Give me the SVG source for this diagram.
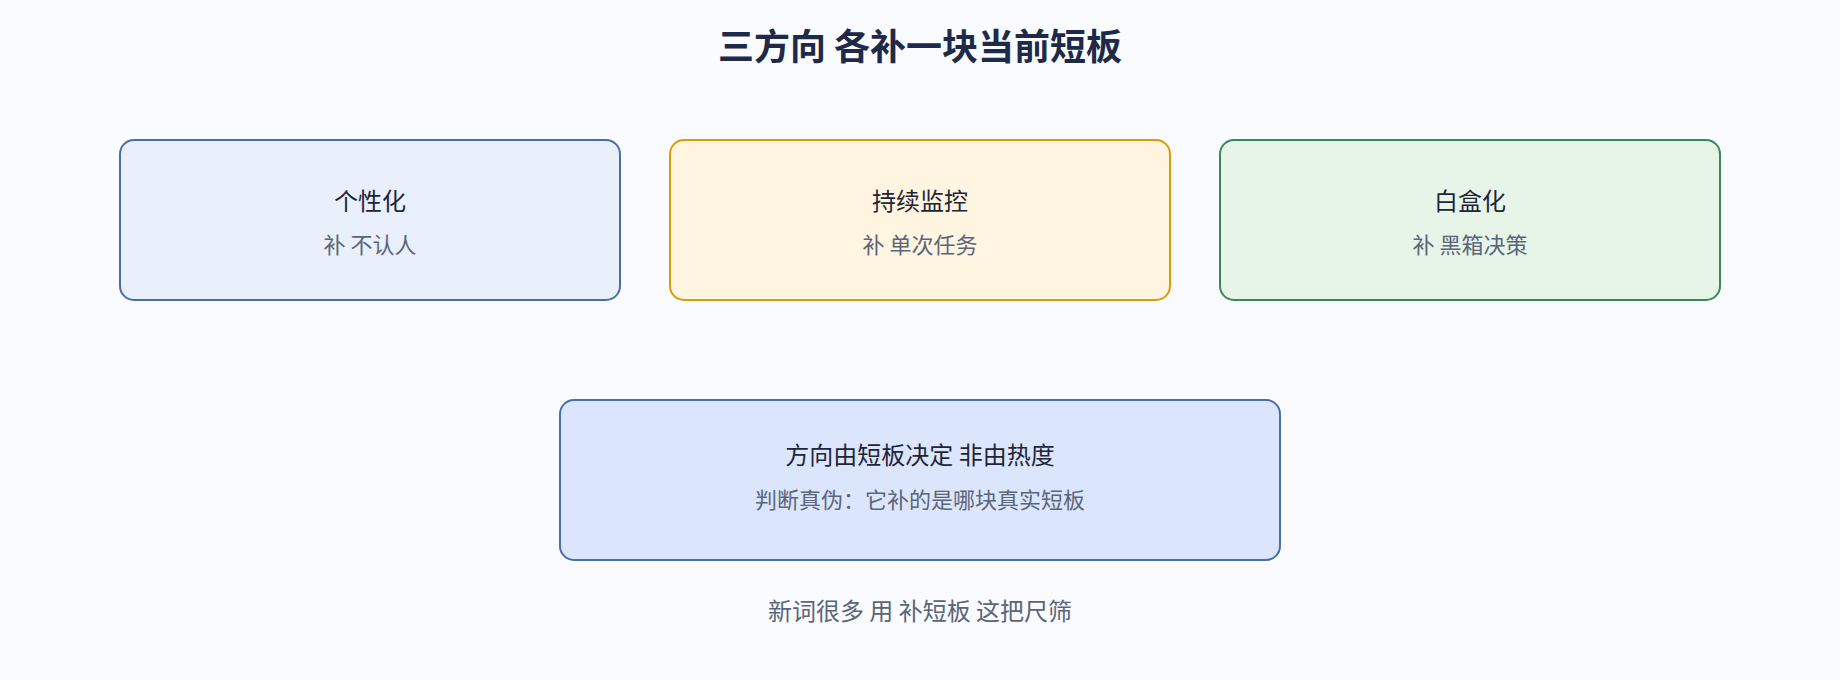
<svg xmlns="http://www.w3.org/2000/svg" width="1840" height="680" viewBox="0 0 1840 680">
<style>
text{font-family:"Noto Sans CJK SC","Noto Sans",sans-serif;text-anchor:middle}
.title{font-size:36px;font-weight:700;fill:#1e2a48}
.h{font-size:24px;fill:#1e2538}
.s{font-size:22px;fill:#5b6579}
.foot{font-size:24px;fill:#5b6579}
.box{stroke-width:2}
.blue{fill:#e9f0fc;stroke:#4a6ea6}
.amber{fill:#fff5e0;stroke:#d79c08}
.green{fill:#e7f4e8;stroke:#3b8758}
.main{fill:#dbe6fd;stroke:#4a6ea6}
</style>
<rect width="1840" height="680" fill="#f9fbfe"/>
<text class="title" x="920" y="60">三方向 各补一块当前短板</text>
<g id="connectors"></g>
<g id="node-personalize">
<rect class="box blue" x="120" y="140" width="500" height="160" rx="14"/>
<text class="h" x="370" y="210">个性化</text>
<text class="s" x="370" y="253">补 不认人</text>
</g>
<g id="node-monitor">
<rect class="box amber" x="670" y="140" width="500" height="160" rx="14"/>
<text class="h" x="920" y="210">持续监控</text>
<text class="s" x="920" y="253">补 单次任务</text>
</g>
<g id="node-whitebox">
<rect class="box green" x="1220" y="140" width="500" height="160" rx="14"/>
<text class="h" x="1470" y="210">白盒化</text>
<text class="s" x="1470" y="253">补 黑箱决策</text>
</g>
<g id="node-direction">
<rect class="box main" x="560" y="400" width="720" height="160" rx="14"/>
<text class="h" x="920" y="464">方向由短板决定 非由热度</text>
<text class="s" x="920" y="508">判断真伪：它补的是哪块真实短板</text>
</g>
<text class="foot" x="920" y="620">新词很多 用 补短板 这把尺筛</text>
</svg>
